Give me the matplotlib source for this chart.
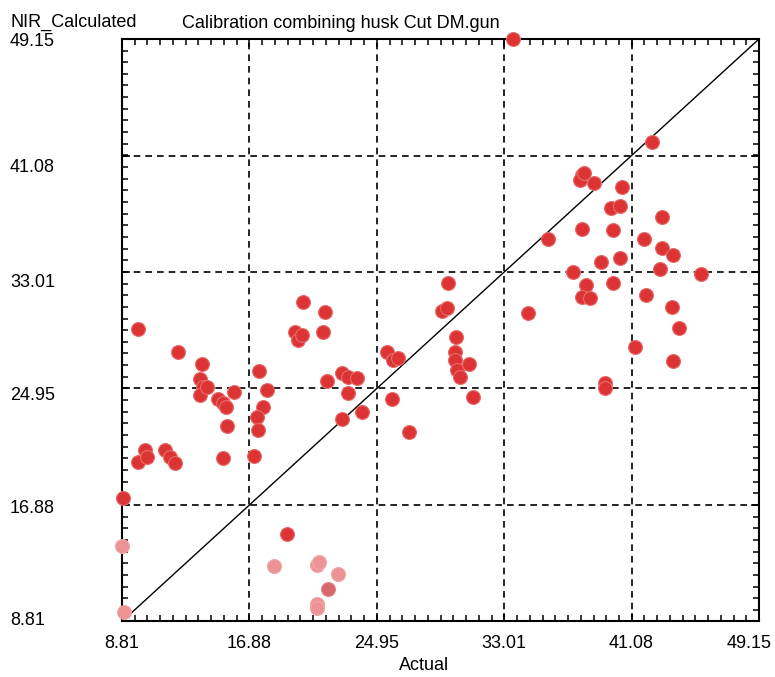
# ============================================
# Bibliotecas
# ============================================
import matplotlib
matplotlib.use("Agg")
import matplotlib.pyplot as plt
import matplotlib.transforms as mtransforms
from matplotlib.ticker import AutoMinorLocator

plt.rcParams["font.family"] = ["Liberation Sans", "DejaVu Sans"]

# ============================================
# Dados
# ============================================

# Pontos vermelhos: valor real (eixo X) e valor calculado NIR (eixo Y)
real_vermelho = [
    9.80, 12.38, 13.90, 13.75, 13.96, 13.75, 14.17, 14.91, 15.23, 15.40,
    15.90, 15.48, 15.23, 9.80, 10.27, 10.37, 11.53, 11.85, 12.17, 17.19,
    17.49, 17.97, 17.76, 17.34, 17.40, 20.29, 21.67, 19.77, 19.98, 20.19,
    21.56, 21.77, 22.72, 23.14, 23.67, 23.14, 22.72, 23.99, 25.57, 25.99,
    26.31, 25.89, 26.99, 29.44, 29.06, 29.37, 29.94, 29.90, 29.90, 30.01,
    30.22, 30.80, 31.02, 33.57, 34.50, 35.81, 37.39, 37.92, 37.82, 38.07,
    38.72, 40.48, 39.80, 40.32, 42.99, 37.92, 39.92, 41.87, 42.99, 43.72,
    40.32, 39.13, 42.88, 45.48, 39.92, 38.20, 37.92, 38.45, 41.98, 43.62,
    44.09, 41.30, 43.69, 39.40, 39.40, 42.36, 8.89, 19.24,
]
calc_vermelho = [
    29.05, 27.49, 26.64, 25.58, 25.07, 24.50, 25.07, 24.20, 23.92, 23.69,
    24.68, 22.35, 20.11, 19.88, 20.69, 20.22, 20.69, 20.22, 19.81, 20.29,
    26.18, 24.84, 23.69, 22.99, 22.07, 30.96, 30.22, 28.88, 28.30, 28.65,
    28.88, 25.47, 26.00, 25.76, 25.69, 24.61, 22.81, 23.30, 27.49, 26.92,
    27.04, 24.20, 21.95, 32.27, 30.31, 30.50, 28.53, 27.49, 26.92, 26.23,
    25.76, 26.62, 24.38, 49.15, 30.15, 35.30, 32.99, 39.73, 39.39, 39.85,
    39.16, 38.90, 37.48, 37.58, 36.84, 35.99, 35.92, 35.30, 34.70, 34.19,
    33.98, 33.73, 33.24, 32.88, 32.27, 32.11, 31.30, 31.19, 31.42, 30.57,
    29.16, 27.80, 26.87, 25.33, 24.98, 42.00, 17.36, 14.85,
]

# Pontos claros (parte inferior da figura)
real_claro = [8.81, 8.94, 18.44, 21.18, 21.30, 22.51, 21.18, 21.18]
calc_claro = [14.04, 9.45, 12.68, 12.73, 12.95, 12.08, 10.02, 9.72]

# Ponto de tom intermediario
real_medio = [21.88]
calc_medio = [11.04]

# Marcas dos eixos
marcas = [8.81, 16.88, 24.95, 33.01, 41.08, 49.15]
rotulos = ["8.81", "16.88", "24.95", "33.01", "41.08", "49.15"]

# ============================================
# Figura e eixos
# ============================================
fig = plt.figure(figsize=(7.75, 6.77), dpi=100)
ax = fig.add_axes([0.1574, 0.0820, 0.8220, 0.8604])

# Linha 1:1
ax.plot([marcas[0], marcas[-1]], [marcas[0], marcas[-1]],
        color="black", linewidth=1.0, zorder=2)

# Pontos
ax.scatter(real_claro, calc_claro, s=100, color="#ec9396",
           edgecolors="#f0a5a8", linewidths=0.8, zorder=3, clip_on=False)
ax.scatter(real_medio, calc_medio, s=100, color="#d8676b",
           edgecolors="#e08488", linewidths=0.8, zorder=3, clip_on=False)
ax.scatter(real_vermelho, calc_vermelho, s=100, color="#dc3434",
           edgecolors="#e86b6b", linewidths=0.8, zorder=4, clip_on=False)

# ============================================
# Personalizando os eixos
# ============================================
ax.set_xlim(marcas[0], marcas[-1])
ax.set_ylim(marcas[0], marcas[-1])
ax.set_xticks(marcas)
ax.set_xticklabels(rotulos)
ax.set_yticks(marcas)
ax.set_yticklabels(rotulos)
ax.xaxis.set_minor_locator(AutoMinorLocator(10))
ax.yaxis.set_minor_locator(AutoMinorLocator(10))

ax.grid(True, which="major", color="black", linestyle=(0, (4, 3)),
        linewidth=1.2, zorder=1)
ax.set_axisbelow(True)

ax.tick_params(which="both", direction="in", top=True, right=True,
               width=1.1, colors="black", labelsize=13)
ax.tick_params(which="major", length=6)
ax.tick_params(which="minor", length=4)
ax.tick_params(axis="x", pad=9.5)
ax.tick_params(axis="y", pad=80.6)

# Rotulos do eixo Y alinhados a esquerda, um pouco abaixo das linhas
desl_y = [3, -2, -5, -8, -10, -1]
for rotulo, d in zip(ax.get_yticklabels(), desl_y):
    rotulo.set_horizontalalignment("left")
    rotulo.set_transform(rotulo.get_transform() +
                         mtransforms.ScaledTranslation(0, d / 100, fig.dpi_scale_trans))

# Ultimo rotulo do eixo X puxado para dentro da figura
ultimo = ax.get_xticklabels()[-1]
ultimo.set_transform(ultimo.get_transform() +
                     mtransforms.ScaledTranslation(-10 / 100, 0, fig.dpi_scale_trans))

for lado in ax.spines.values():
    lado.set_linewidth(1.5)
    lado.set_color("black")

# Titulos
ax.set_xlabel("Actual", fontsize=13)
ax.xaxis.set_label_coords(0.474, -0.061)
fig.text(10 / 775, 1 - 27 / 677, "NIR_Calculated", fontsize=13,
         ha="left", va="baseline")
fig.text(182 / 775, 1 - 28 / 677, "Calibration combining husk Cut DM.gun",
         fontsize=13, ha="left", va="baseline")

# ============================================
# Salvando
# ============================================
fig.savefig("out.png", dpi=100)
